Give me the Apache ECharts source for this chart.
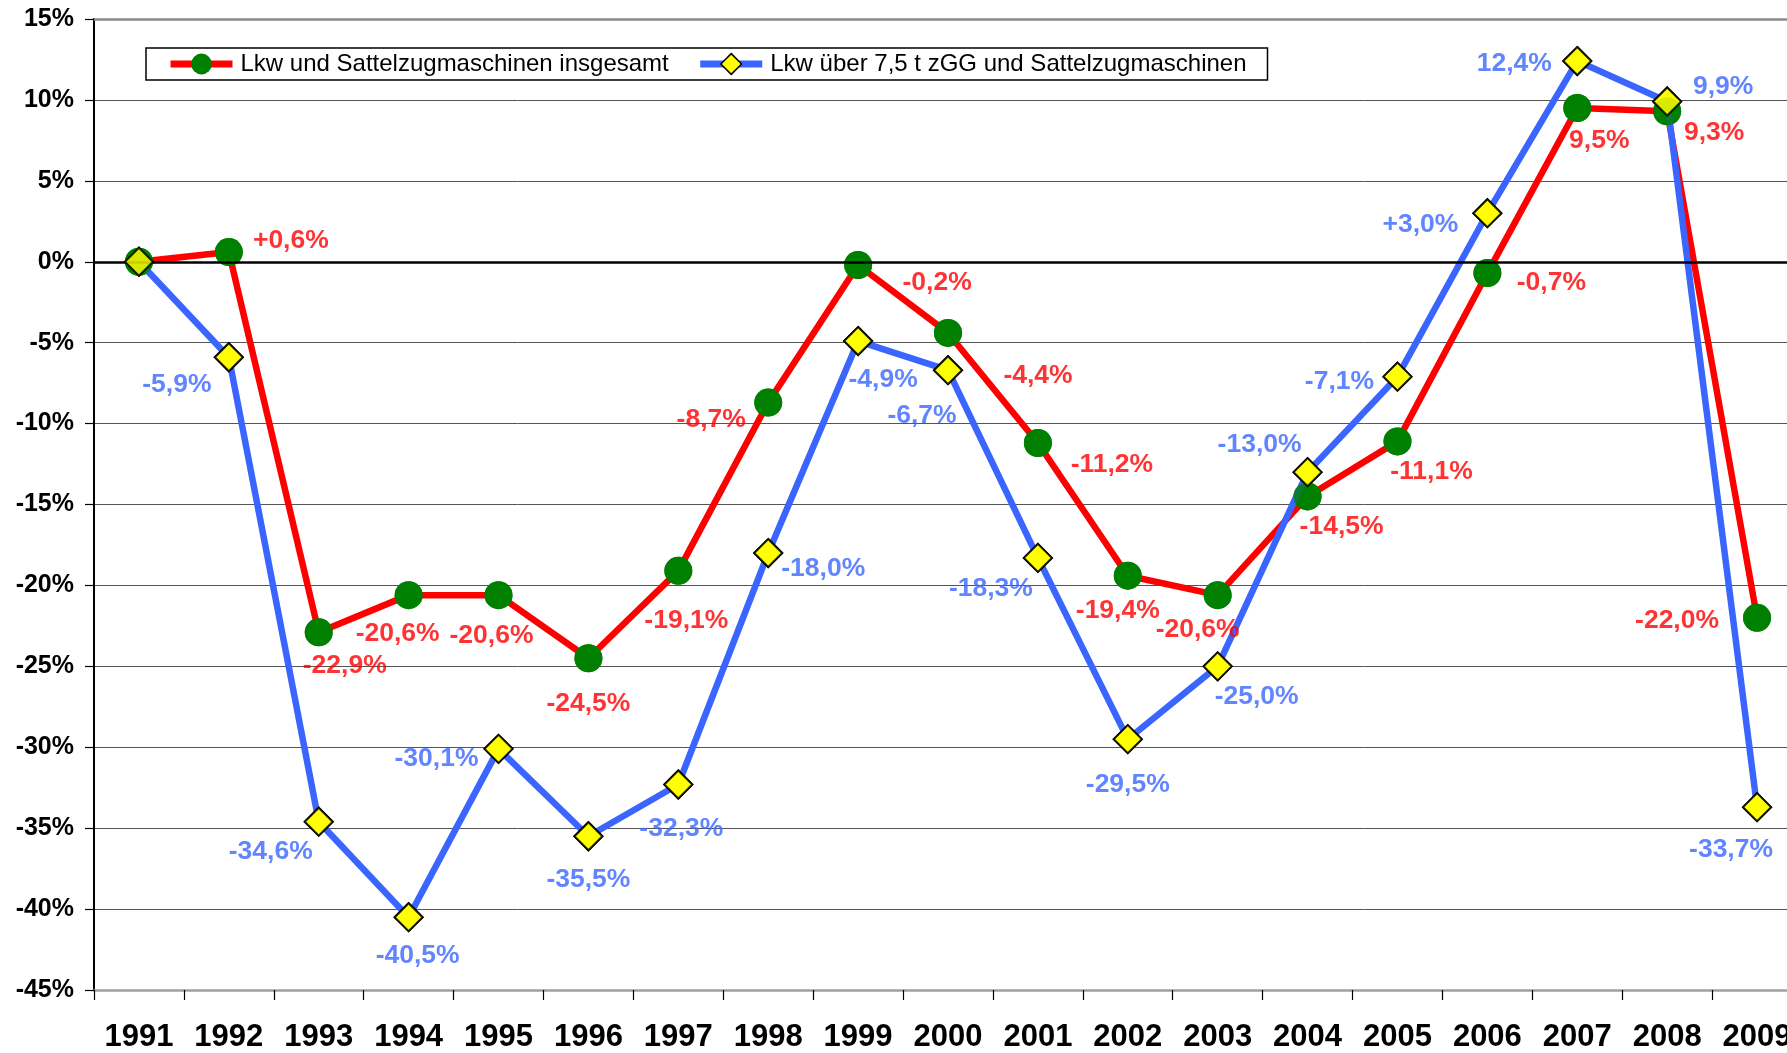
<!DOCTYPE html>
<html>
<head>
<meta charset="utf-8">
<script src="https://cdn.jsdelivr.net/npm/echarts@6/dist/echarts.min.js"></script>
<style>
html,body{margin:0;padding:0;background:#fff;}
#chart{width:1787px;height:1053px;}
</style>
</head>
<body>
<div id="chart"></div>
<script>
// ---- data ----
const years = ['1991','1992','1993','1994','1995','1996','1997','1998','1999','2000','2001','2002','2003','2004','2005','2006','2007','2008','2009'];
const seriesNameA = 'Lkw und Sattelzugmaschinen insgesamt';
const seriesNameB = 'Lkw über 7,5 t zGG und Sattelzugmaschinen';
const valuesA = [0, 0.6, -22.9, -20.6, -20.6, -24.5, -19.1, -8.7, -0.2, -4.4, -11.2, -19.4, -20.6, -14.5, -11.1, -0.7, 9.5, 9.3, -22.0];
const valuesB = [0, -5.9, -34.6, -40.5, -30.1, -35.5, -32.3, -18.0, -4.9, -6.7, -18.3, -29.5, -25.0, -13.0, -7.1, 3.0, 12.4, 9.9, -33.7];
const plusA = [1];    // indices whose label shows an explicit "+"
const plusB = [15];
const yTicks = {min: -45, max: 15, interval: 5};

// ---- label placement (pixel offsets from the marker centre) ----
const offA = [null,[62,-11],[26,33],[-11,39],[-7,41],[0,45],[8,50],[-57,17],[79,18],[90,43],[74,22],[-10,35],[-20,35],[34,30],[34,30],[64,10],[22,33],[47,21],[-80,3]];
const offB = [null,[-52,27],[-48,30],[9,39],[-62,10],[0,43],[3,44],[55,16],[25,39],[-26,46],[-47,31],[0,46],[39,30],[-48,-27],[-58,5],[-67,11],[-63,3],[56,-15],[-26,43]];

const RED = '#ff0000', BLUE = '#3a66ff', GREEN = '#008000', YELLOW = '#ffff00';
const FONT = '"Liberation Sans", Arial, Helvetica, sans-serif';

function fmt(v, plus) {
  return (plus && v > 0 ? '+' : '') + v.toFixed(1).replace('.', ',') + '%';
}
function labelled(values, offs, plusIdx, color) {
  return values.map((v, i) => ({
    value: v,
    label: offs[i] ? {
      show: true, position: 'inside', offset: offs[i],
      formatter: fmt(v, plusIdx.includes(i)),
      color: color, fontSize: 26.5, fontWeight: 'bold', fontFamily: FONT
    } : {show: false}
  }));
}

const chart = echarts.init(document.getElementById('chart'), null, {renderer: 'canvas'});
chart.setOption({
  animation: false,
  backgroundColor: '#fff',
  grid: {left: 94, top: 19, width: 1708, bottom: 63, containLabel: false, outerBoundsMode: 'none'},
  legend: {
    data: [
      {name: seriesNameA, lineStyle: {width: 7, color: RED}, itemStyle: {color: GREEN}},
      {name: seriesNameB, lineStyle: {width: 7, color: BLUE}, itemStyle: {color: YELLOW, borderColor: '#000', borderWidth: 1.5}}
    ],
    left: 146, top: 48,
    padding: [4, 21, 4, 21],
    borderColor: '#000', borderWidth: 1.5,
    backgroundColor: '#fff',
    itemWidth: 62, itemHeight: 26, itemGap: 28,
    textStyle: {fontSize: 24, fontFamily: FONT, color: '#000', padding: [0, 0, 0, 3]}
  },
  xAxis: {
    type: 'category', data: years, boundaryGap: true,
    axisLine: {show: true, onZero: false, lineStyle: {color: '#a0a0a0', width: 2.5}},
    axisTick: {show: true, length: 10, lineStyle: {color: '#000', width: 1.2}},
    axisLabel: {fontSize: 31, fontWeight: 'bold', fontFamily: FONT, color: '#000', margin: 32},
    splitLine: {show: false}
  },
  yAxis: {
    type: 'value', min: yTicks.min, max: yTicks.max, interval: yTicks.interval,
    axisLine: {show: true, lineStyle: {color: '#000', width: 2}},
    axisTick: {show: true, length: 9, lineStyle: {color: '#000', width: 1.2}},
    axisLabel: {formatter: '{value}%', fontSize: 25, fontWeight: 'bold', fontFamily: FONT, color: '#000', margin: 20},
    splitLine: {show: true, lineStyle: {color: '#555', width: 1}}
  },
  series: [
    {
      name: seriesNameA, type: 'line', data: valuesA, z: 2,
      lineStyle: {color: RED, width: 6.5}, itemStyle: {color: GREEN},
      symbol: 'circle', symbolSize: 28, showSymbol: true,
      markLine: {
        silent: true, symbol: 'none', label: {show: false}, animation: false,
        data: [
          {yAxis: 0, lineStyle: {color: '#000', width: 2.5, type: 'solid'}},
          {yAxis: 15, lineStyle: {color: '#8a8a8a', width: 2.5, type: 'solid'}}
        ]
      }
    },
    {
      name: seriesNameB, type: 'line', data: valuesB, z: 3,
      lineStyle: {color: BLUE, width: 6.5},
      itemStyle: {color: YELLOW, borderColor: '#000', borderWidth: 2},
      symbol: 'diamond', symbolSize: 28, showSymbol: true
    },
    {
      name: 'markersA', type: 'scatter', data: labelled(valuesA, offA, plusA, RED), z: 4,
      symbol: 'circle', symbolSize: 28, itemStyle: {color: GREEN}, silent: true
    },
    {
      name: 'markersB', type: 'scatter', data: labelled(valuesB, offB, plusB, BLUE), z: 5,
      symbol: 'diamond', symbolSize: 28,
      itemStyle: {color: YELLOW, borderColor: '#000', borderWidth: 2}, silent: true
    }
  ]
});
</script>
</body>
</html>
